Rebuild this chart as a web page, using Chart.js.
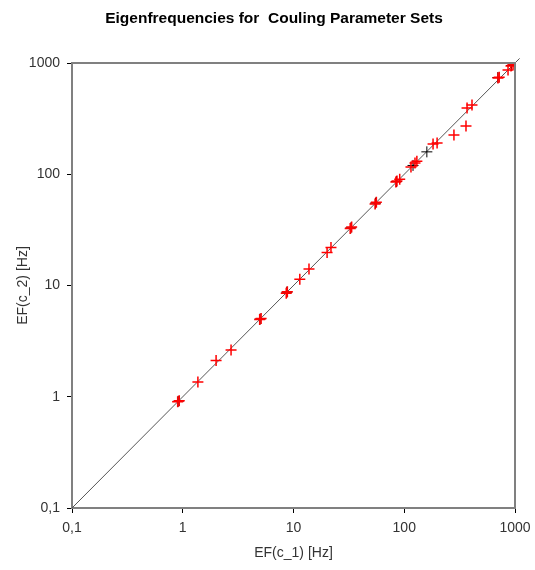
<!DOCTYPE html>
<html>
<head>
<meta charset="utf-8">
<script src="https://cdn.jsdelivr.net/npm/chart.js@4.4.0/dist/chart.umd.min.js"></script>
<style>
  body { margin: 0; background: #fff; }
  canvas { display: block; }
</style>
</head>
<body>
<canvas id="graphCanvas" width="535" height="570"></canvas>
<script>
// values
const tickValues = [0.1, 1, 10, 100, 1000];
const tickLabels = ['0,1', '1', '10', '100', '1000'];

// red series (EF(c_1), EF(c_2))
const redX = [0.90, 0.93, 1.37, 2.0, 2.73, 4.95, 5.1, 8.6, 8.8, 11.4, 13.8, 20.1, 21.8, 32.5, 33.5, 54.5, 56, 84, 86, 91, 115, 125, 130, 182, 198, 281, 361, 369, 409, 702, 720, 865, 920, 960];
const redY = [0.90, 0.92, 1.36, 2.12, 2.63, 4.95, 5.05, 8.5, 8.8, 11.4, 14.1, 19.8, 22.0, 32.5, 33.5, 54, 56, 85, 87, 90, 116, 126, 131, 187, 191, 225, 272, 394, 419, 733, 745, 865, 940, 975];

// black series
const blackX = [0.91, 5.0, 8.7, 33, 55, 85, 120, 160, 700, 930];
const blackY = [0.91, 5.0, 8.7, 33, 55, 86, 120, 159, 740, 950];

// diagonal reference
const diagX = [0.1, 1100];
const diagY = [0.1, 1100];

function toPoints(xs, ys) {
    return xs.map(function(x, i) { return { x: x, y: ys[i] }; });
}

// title, axis titles and frame
const decorPlugin = {
    id: 'decor',
    afterDraw: function(chart) {
        const ctx = chart.ctx;
        const a = chart.chartArea;
        ctx.save();
        ctx.strokeStyle = '#808080';
        ctx.lineWidth = 2;
        ctx.beginPath();
        ctx.moveTo(a.left, a.top);
        ctx.lineTo(a.right, a.top);
        ctx.lineTo(a.right, a.bottom);
        ctx.stroke();

        ctx.fillStyle = '#000';
        ctx.textAlign = 'center';
        ctx.textBaseline = 'middle';
        ctx.font = 'bold 15.5px "Liberation Sans", Arial, sans-serif';
        ctx.fillText('Eigenfrequencies for  Couling Parameter Sets', 274, 19);

        ctx.fillStyle = '#333';
        ctx.font = '14px "Liberation Sans", Arial, sans-serif';
        ctx.fillText('EF(c_1) [Hz]', (a.left + a.right) / 2, 553);
        ctx.translate(23, (a.top + a.bottom) / 2);
        ctx.rotate(-Math.PI / 2);
        ctx.fillText('EF(c_2) [Hz]', 0, 0);
        ctx.restore();
    }
};

function axisOptions(isX) {
    return {
        type: 'logarithmic',
        min: 0.1,
        max: 1000,
        afterBuildTicks: function(scale) {
            scale.ticks = tickValues.map(function(v) { return { value: v }; });
        },
        afterFit: function(scale) {
            if (isX) {
                scale.height = 62;
                scale.paddingLeft = 0;
                scale.paddingRight = 0;
            } else {
                scale.width = 72;
                scale.paddingTop = 0;
                scale.paddingBottom = 0;
            }
        },
        ticks: {
            autoSkip: false,
            maxRotation: 0,
            padding: 7,
            color: '#333',
            font: { family: '"Liberation Sans", Arial, sans-serif', size: 14 },
            callback: function(value, index) { return tickLabels[index]; }
        },
        grid: {
            drawOnChartArea: false,
            drawTicks: true,
            tickLength: 5,
            color: '#000'
        },
        border: { color: '#808080', width: 2 }
    };
}

new Chart(document.getElementById('graphCanvas').getContext('2d'), {
    type: 'scatter',
    data: {
        datasets: [{
            label: 'red',
            data: toPoints(redX, redY),
            pointStyle: 'cross',
            pointRadius: 5.5,
            borderColor: '#ff0000',
            backgroundColor: '#ff0000',
            borderWidth: 1.5,
            order: 0
        }, {
            label: 'black',
            data: toPoints(blackX, blackY),
            pointStyle: 'cross',
            pointRadius: 5.5,
            borderColor: '#000',
            backgroundColor: '#000',
            borderWidth: 1,
            order: 1
        }, {
            type: 'line',
            label: 'diag',
            data: toPoints(diagX, diagY),
            borderColor: '#555',
            borderWidth: 1,
            pointRadius: 0,
            fill: false,
            clip: false,
            order: 2
        }]
    },
    options: {
        responsive: false,
        animation: false,
        layout: { padding: { top: 63, right: 20, left: 0, bottom: 0 } },
        plugins: {
            legend: { display: false },
            title: { display: false },
            tooltip: { enabled: false }
        },
        scales: {
            x: axisOptions(true),
            y: axisOptions(false)
        }
    },
    plugins: [decorPlugin]
});
</script>
</body>
</html>
